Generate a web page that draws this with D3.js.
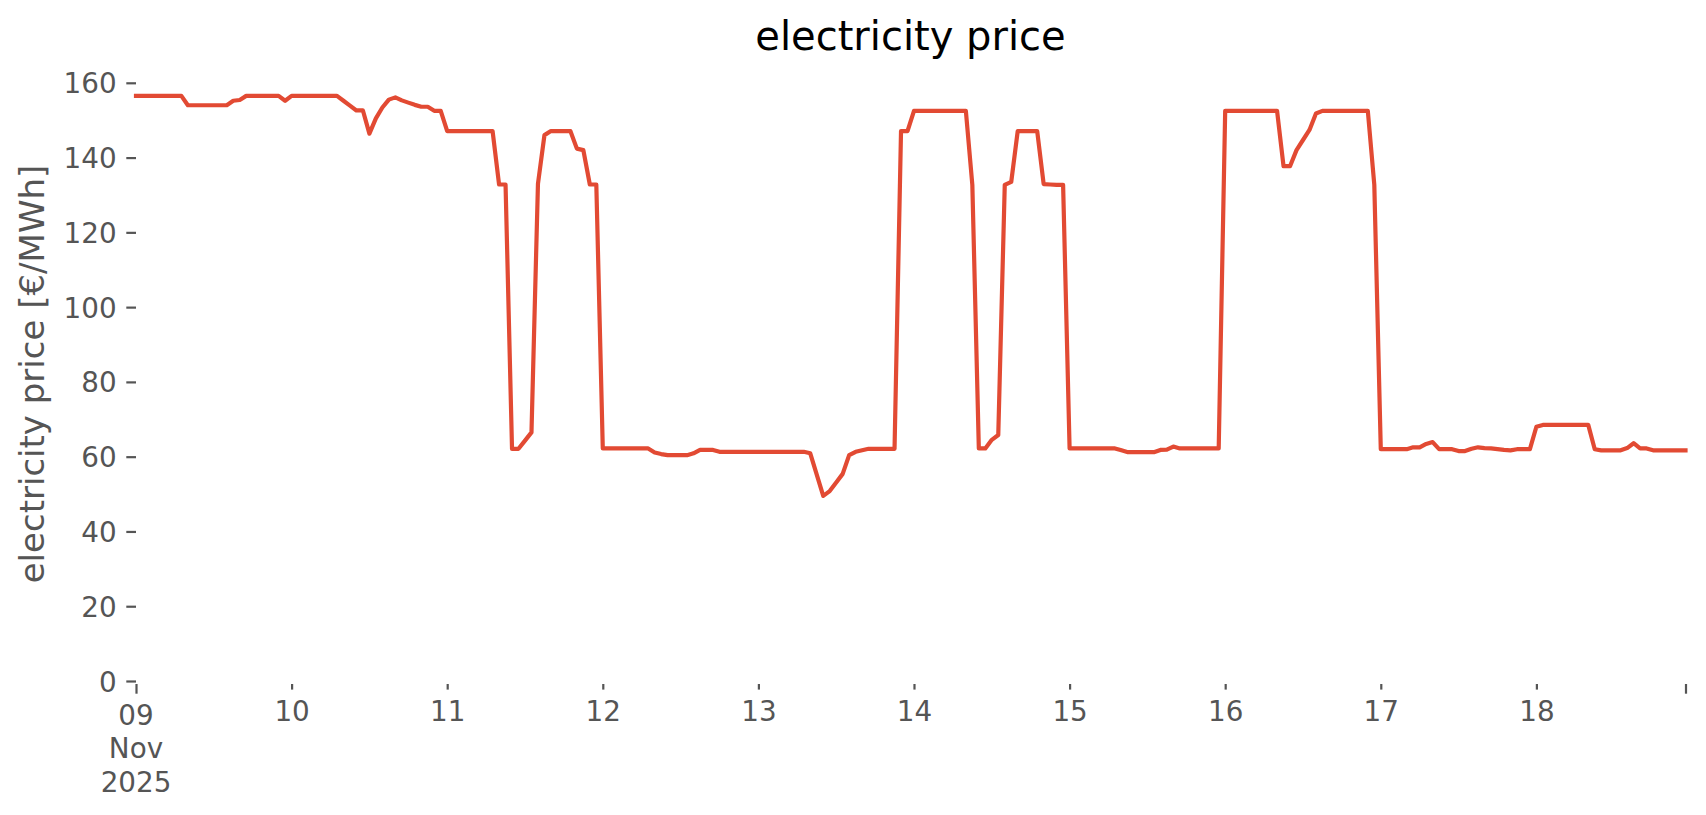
<!DOCTYPE html>
<html>
<head>
<meta charset="utf-8">
<script src="https://cdn.jsdelivr.net/npm/d3@7"></script>
<style>
  body { margin: 0; background: #fff; }
  svg { display: block; font-family: "DejaVu Sans", sans-serif; }
</style>
</head>
<body>
<svg id="chart" width="1706" height="815"></svg>
<script>
// hourly electricity prices in €/MWh, one array per day (00:00 .. 23:00)
const nov09 = [156.5, 156.5, 156.5, 156.5, 156.5, 156.5, 156.5, 156.5, 154.0, 154.0, 154.0, 154.0,
  154.0, 154.0, 154.0, 155.2, 155.4, 156.5, 156.5, 156.5, 156.5, 156.5, 156.5, 155.2];
const nov10 = [156.5, 156.5, 156.5, 156.5, 156.5, 156.5, 156.5, 156.5, 155.2, 153.9, 152.6, 152.6,
  146.4, 150.5, 153.4, 155.5, 156.1, 155.3, 154.7, 154.1, 153.6, 153.6, 152.5, 152.5];
const nov11 = [147.1, 147.1, 147.1, 147.1, 147.1, 147.1, 147.1, 147.1, 132.8, 132.8, 62.1, 62.1,
  64.3, 66.5, 133.0, 146.0, 147.1, 147.1, 147.1, 147.1, 142.4, 142.0, 132.8, 132.8];
const nov12 = [62.2, 62.2, 62.2, 62.2, 62.2, 62.2, 62.2, 62.2, 61.1, 60.7, 60.4, 60.4,
  60.4, 60.4, 60.9, 61.8, 61.8, 61.8, 61.3, 61.3, 61.3, 61.3, 61.3, 61.3];
const nov13 = [61.3, 61.3, 61.3, 61.3, 61.3, 61.3, 61.3, 61.3, 60.9, 55.2, 49.5, 50.8,
  53.1, 55.4, 60.4, 61.3, 61.7, 62.1, 62.1, 62.1, 62.1, 62.1, 147.1, 147.1];
const nov14 = [152.5, 152.5, 152.5, 152.5, 152.5, 152.5, 152.5, 152.5, 152.5, 132.7, 62.2, 62.2,
  64.5, 65.8, 132.7, 133.5, 147.1, 147.1, 147.1, 147.1, 132.9, 132.8, 132.7, 132.7];
const nov15 = [62.2, 62.2, 62.2, 62.2, 62.2, 62.2, 62.2, 62.2, 61.7, 61.2, 61.2, 61.2,
  61.2, 61.2, 61.8, 61.9, 62.7, 62.2, 62.2, 62.2, 62.2, 62.2, 62.2, 62.2];
const nov16 = [152.5, 152.5, 152.5, 152.5, 152.5, 152.5, 152.5, 152.5, 152.5, 137.7, 137.7, 142.0,
  144.7, 147.4, 151.8, 152.5, 152.5, 152.5, 152.5, 152.5, 152.5, 152.5, 152.5, 132.7];
const nov17 = [62.0, 62.0, 62.0, 62.0, 62.0, 62.5, 62.5, 63.4, 63.9, 62.0, 62.0, 62.0,
  61.5, 61.5, 62.1, 62.5, 62.3, 62.2, 62.0, 61.8, 61.7, 62.0, 62.0, 62.0];
const nov18 = [68.0, 68.5, 68.5, 68.5, 68.5, 68.5, 68.5, 68.5, 68.5, 62.0, 61.7, 61.7,
  61.7, 61.7, 62.3, 63.6, 62.2, 62.2, 61.7, 61.7, 61.7, 61.7, 61.7, 61.7];

const yTicks = [0, 20, 40, 60, 80, 100, 120, 140, 160];
const dayLabels = ["10", "11", "12", "13", "14", "15", "16", "17", "18"];
const firstLabel = ["09", "Nov", "2025"];

const start = Date.UTC(2025, 10, 9);
const hour = 3600 * 1000;
const prices = [nov09, nov10, nov11, nov12, nov13, nov14, nov15, nov16, nov17, nov18].flat();
const data = prices.map((v, i) => ({ t: new Date(start + i * hour), v: v }));

const svg = d3.select("#chart");
const grey = "#555555";
const axisBottom = 684;

const x = d3.scaleUtc()
  .domain([data[0].t, data[data.length - 1].t])
  .range([136, 1685.5]);

const y = d3.scaleLinear()
  .domain([0, 160])
  .range([681, 82.8]);

// title
svg.append("text")
  .attr("x", 910.5)
  .attr("y", 50)
  .attr("text-anchor", "middle")
  .style("font-size", "40px")
  .style("fill", "#000")
  .text("electricity price");

// y axis
const yAxis = svg.append("g")
  .attr("transform", "translate(136,0)")
  .call(d3.axisLeft(y).tickValues(yTicks).tickSize(9.7).tickPadding(9.7));
yAxis.select(".domain").remove();
yAxis.selectAll(".tick line").attr("stroke", grey).attr("stroke-width", 2.2);
yAxis.selectAll(".tick text")
  .attr("dy", "0.36em")
  .style("font-size", "27.8px")
  .style("fill", grey)
  .style("font-family", "DejaVu Sans");

svg.append("text")
  .attr("transform", "translate(44,374) rotate(-90)")
  .attr("text-anchor", "middle")
  .style("font-size", "34px")
  .style("fill", grey)
  .text("electricity price [€/MWh]");

// x axis: minor ticks on each day, major ticks at both ends
const minorDays = d3.utcDay.range(Date.UTC(2025, 10, 10), Date.UTC(2025, 10, 19));
const xMinor = svg.append("g")
  .attr("transform", `translate(0,${axisBottom})`)
  .call(d3.axisBottom(x).tickValues(minorDays).tickSize(5.6).tickFormat((d, i) => dayLabels[i]));
xMinor.select(".domain").remove();
xMinor.selectAll(".tick line").attr("stroke", grey).attr("stroke-width", 2.2);
xMinor.selectAll(".tick text")
  .attr("y", 0)
  .attr("dy", 0)
  .attr("transform", `translate(0,${721 - axisBottom})`)
  .style("font-size", "27.8px")
  .style("fill", grey)
  .style("font-family", "DejaVu Sans");

const xMajor = svg.append("g")
  .attr("transform", `translate(0,${axisBottom})`)
  .call(d3.axisBottom(x).tickValues(x.domain()).tickSize(9.7).tickFormat(""));
xMajor.select(".domain").remove();
xMajor.selectAll(".tick line").attr("stroke", grey).attr("stroke-width", 2.2);

const first = svg.append("text")
  .attr("text-anchor", "middle")
  .style("font-size", "27.8px")
  .style("fill", grey);
first.selectAll("tspan")
  .data(firstLabel)
  .join("tspan")
  .attr("x", x(data[0].t))
  .attr("y", (d, i) => 725 + i * 33.3)
  .text(d => d);

// price line
svg.append("path")
  .datum(data)
  .attr("fill", "none")
  .attr("stroke", "#E24A33")
  .attr("stroke-width", 4.2)
  .attr("stroke-linejoin", "round")
  .attr("stroke-linecap", "square")
  .attr("d", d3.line().x(d => x(d.t)).y(d => y(d.v)));
</script>
</body>
</html>
